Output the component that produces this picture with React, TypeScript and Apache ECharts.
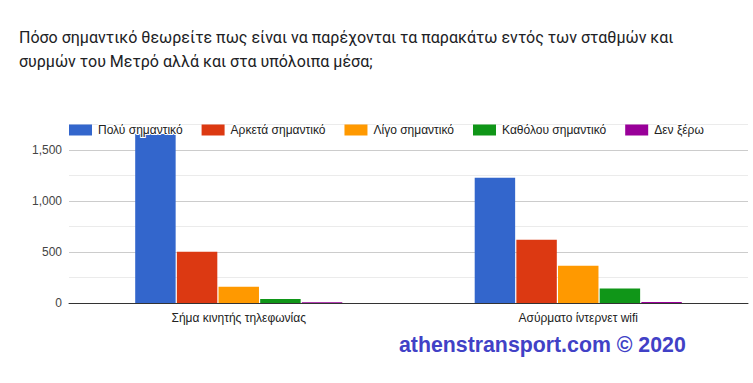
import React, { useEffect, useRef } from "react";
import * as echarts from "echarts";

const categories = ["Σήμα κινητής τηλεφωνίας", "Ασύρματο ίντερνετ wifi"];
const seriesNames = ["Πολύ σημαντικό", "Αρκετά σημαντικό", "Λίγο σημαντικό", "Καθόλου σημαντικό", "Δεν ξέρω"];
const seriesValues = [
  [1657, 1228],
  [503, 620],
  [160, 366],
  [39, 141],
  [8, 10],
];
const colors = ["#3366cc", "#dc3912", "#ff9900", "#109618", "#990099"];
const titleLines = [
  "Πόσο σημαντικό θεωρείτε πως είναι να παρέχονται τα παρακάτω εντός των σταθμών και",
  "συρμών του Μετρό αλλά και στα υπόλοιπα μέσα;",
];
const watermark = "athenstransport.com © 2020";

export default function App() {
  const ref = useRef<HTMLDivElement>(null);
  useEffect(() => {
    if (!ref.current) return;
    const chart = echarts.init(ref.current, undefined, { renderer: "svg" });
    const font = "Arial, 'Liberation Sans', sans-serif";
    chart.setOption({
      animation: false,
      color: colors,
      textStyle: { fontFamily: font },
      grid: { left: 69, right: 5, top: 124.5, bottom: 80 },
      legend: {
        left: 69,
        top: 123,
        padding: 0,
        itemWidth: 23,
        itemHeight: 11,
        itemGap: 18,
        icon: "rect",
        textStyle: {
          fontSize: 12,
          color: "#222",
          fontFamily: font,
          padding: [0, 0, 0, 1],
          textBorderColor: "#fff",
          textBorderWidth: 2,
        },
        data: seriesNames,
      },
      xAxis: {
        type: "category",
        data: categories,
        axisLine: { lineStyle: { color: "#333", width: 1 } },
        axisTick: { show: false },
        axisLabel: { fontSize: 12, color: "#222", margin: 9, fontFamily: font },
      },
      yAxis: {
        type: "value",
        min: 0,
        max: 1750,
        interval: 250,
        axisLine: { show: false },
        axisTick: { show: false },
        axisLabel: {
          fontSize: 12,
          color: "#444",
          margin: 7,
          fontFamily: font,
          formatter: (v: number) => (v % 500 === 0 ? v.toLocaleString("en-US") : ""),
        },
        splitLine: { lineStyle: { color: ["#cccccc", "#ebebeb"], width: 1 } },
      },
      series: seriesNames.map((name, i) => ({
        name,
        type: "bar",
        data: seriesValues[i],
        barGap: "3%",
        barCategoryGap: "39%",
        itemStyle: { color: colors[i] },
      })),
      graphic: [
        {
          type: "text",
          left: 19,
          top: 25,
          style: {
            text: titleLines.join("\n"),
            font: "16px Roboto, Arial, sans-serif",
            lineHeight: 24.5,
            fill: "#202124",
          },
        },
        {
          type: "text",
          left: 399,
          top: 334,
          style: {
            text: watermark,
            font: "bold 21.3px Arial, 'Liberation Sans', sans-serif",
            fill: "#4141c6",
          },
        },
      ],
    });
    return () => chart.dispose();
  }, []);
  return (
    <div
      ref={ref}
      style={{ position: "fixed", left: 0, top: 0, width: 753, height: 383, background: "#fff" }}
    />
  );
}
